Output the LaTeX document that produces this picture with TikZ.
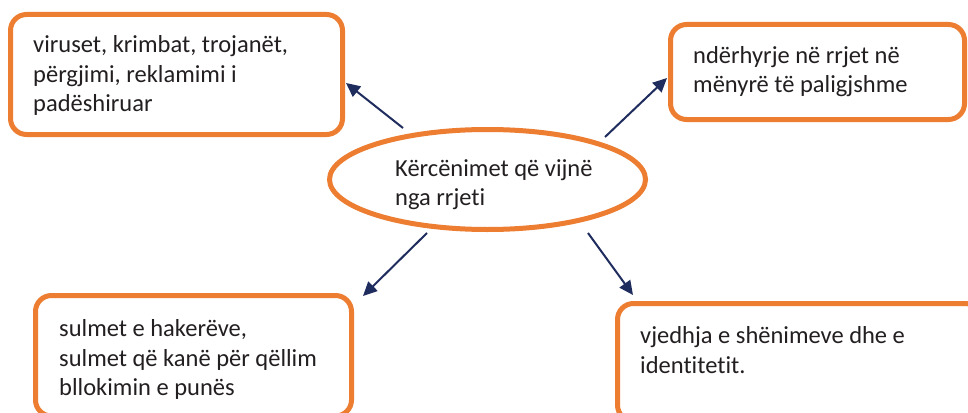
\documentclass[tikz,border=0pt]{standalone}
\usepackage{fontspec}
\setmainfont{Carlito}[Ligatures=NoCommon]
\usetikzlibrary{shapes.geometric,arrows.meta}
\definecolor{frame}{HTML}{ED7D31}
\definecolor{arrowblue}{HTML}{1F2C5E}
\definecolor{ink}{HTML}{231F20}
\begin{document}
\begin{tikzpicture}[x=1pt,y=-1pt,
  box/.style={draw=frame,line width=5pt,rounded corners=16pt,inner sep=0pt,outer sep=0pt},
  hub/.style={ellipse,draw=frame,line width=5pt,inner sep=0pt,outer sep=0pt,
    minimum width=316pt,minimum height=100pt},
  % anchored at the baseline of the last line
  label/.style={anchor=base west,align=left,inner sep=0pt,text=ink,
    font=\fontsize{24.5}{29.5}\selectfont},
  link/.style={draw=arrowblue,line width=2pt,-{Triangle[length=14pt,width=13pt]}}]
\useasboundingbox (0,0) rectangle (968,412);
\fill[white] (0,0) rectangle (968,412);
\begin{scope}
\clip (0,0) rectangle (968,412);
% frames
\node[box,minimum width=332pt,minimum height=120pt] (b1) at (176.5,74.5) {};
\node[box,minimum width=294pt,minimum height=95pt] (b2) at (817.5,72) {};
\node[box,minimum width=316pt,minimum height=120.5pt] (b3) at (193.5,355.75) {};
\node[box,minimum width=363.5pt,minimum height=117.5pt] (b4) at (799.25,362.25) {};
\node[hub] (hub) at (487.5,179.5) {};
% texts
\node[label] (t1) at (33,111.5) {viruset, krimbat, trojanët,\\përgjimi, reklamimi i\\padëshiruar};
\node[label,font=\fontsize{24.5}{28.5}\selectfont] (t2) at (693,92) {ndërhyrje në rrjet në\\mënyrë të paligjshme};
\node[label,font=\fontsize{24.5}{28.5}\selectfont] (th) at (395,205.2) {Kërcënimet që vijnë\\nga rrjeti};
\node[label] (t3) at (59,395.5) {sulmet e hakerëve,\\sulmet që kanë për qëllim\\bllokimin e punës};
\node[label] (t4) at (640,373) {vjedhja e shënimeve dhe e\\identitetit.};
% connectors
\coordinate (s1) at (403,128);  \coordinate (e1) at (346,83);
\coordinate (s2) at (605,137);  \coordinate (e2) at (667,78);
\coordinate (s3) at (427,233);  \coordinate (e3) at (363,296);
\coordinate (s4) at (588,233);  \coordinate (e4) at (633,295);
\draw[link] (s1) -- (e1);
\draw[link] (s2) -- (e2);
\draw[link] (s3) -- (e3);
\draw[link] (s4) -- (e4);
\end{scope}
\end{tikzpicture}
\end{document}
